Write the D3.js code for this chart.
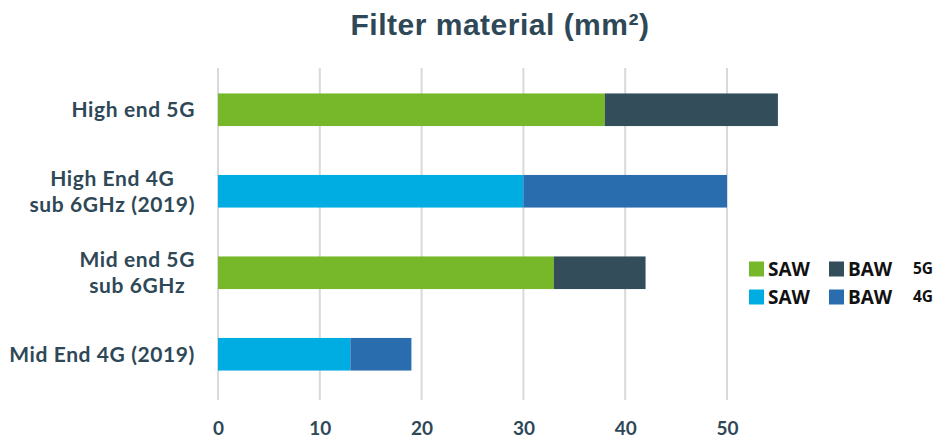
<!DOCTYPE html>
<html><head><meta charset="utf-8">
<script src="https://cdn.jsdelivr.net/npm/d3@7"></script>
<style>body{margin:0;background:#fff}svg{display:block}</style>
</head><body>
<script>
const categories = [["High end 5G"], ["High End 4G", "sub 6GHz (2019)"], ["Mid end 5G", "sub 6GHz"], ["Mid End 4G (2019)"]];
const generation = ["5G", "4G", "5G", "4G"];
const sawValues = [38, 30, 33, 13];
const bawValues = [17, 20, 9, 6];
const xTicks = [0, 10, 20, 30, 40, 50];
const title = "Filter material (mm²)";
const legendRows = [["SAW", "BAW", "5G"], ["SAW", "BAW", "4G"]];

const colors = {"5G": {saw: "#76b82a", baw: "#344d5a"}, "4G": {saw: "#00ade3", baw: "#2a6dae"}};
const textColor = "#2e4857";
const W = 940, H = 437;
const svg = d3.select("body").append("svg").attr("width", W).attr("height", H);

const x = d3.scaleLinear().domain([0, 50]).range([218, 727]);
const keys = categories.map((c, i) => i);
const y = d3.scaleBand().domain(keys).range([69, 395]).paddingInner(0.6).paddingOuter(0.3);

// gridlines
svg.append("g").selectAll("line").data(xTicks).join("line")
  .attr("x1", d => x(d)).attr("x2", d => x(d)).attr("y1", 68).attr("y2", 400)
  .attr("stroke", "#d9d9d9").attr("stroke-width", 2);

// bars
const g = svg.append("g");
keys.forEach(i => {
  const c = colors[generation[i]];
  g.append("rect").attr("x", x(0)).attr("y", y(i)).attr("width", x(sawValues[i]) - x(0))
    .attr("height", y.bandwidth()).attr("fill", c.saw);
  g.append("rect").attr("x", x(sawValues[i])).attr("y", y(i))
    .attr("width", x(sawValues[i] + bawValues[i]) - x(sawValues[i]))
    .attr("height", y.bandwidth()).attr("fill", c.baw);
});

// x axis labels
const xAxis = d3.axisBottom(x).tickValues(xTicks).tickSize(0).tickPadding(0);
const ax = svg.append("g").attr("transform", "translate(0,421)").call(xAxis);
ax.select(".domain").remove();
ax.selectAll("text").attr("font-family", "Lato, sans-serif").attr("font-weight", "bold")
  .attr("font-size", 19).attr("fill", textColor).attr("dy", "0.71em");

// category labels
const lab = svg.append("g");
keys.forEach(i => {
  const lines = categories[i];
  const t = lab.append("text").attr("font-family", "Lato, sans-serif").attr("font-weight", "bold")
    .attr("font-size", 21).attr("letter-spacing", "0.6px").attr("fill", textColor).attr("text-anchor", "middle");
  const lh = 26;
  const cy = y(i) + y.bandwidth() / 2;
  lines.forEach((l, k) => {
    t.append("tspan").attr("y", cy + (k - (lines.length - 1) / 2) * lh).attr("dy", "0.35em").text(l);
  });
  let maxW = 0;
  t.selectAll("tspan").each(function(){ maxW = Math.max(maxW, this.getComputedTextLength()); });
  t.selectAll("tspan").attr("x", 195 - maxW / 2);
});

// title
svg.append("text").attr("x", 500).attr("y", 35).attr("text-anchor", "middle")
  .attr("font-family", "Liberation Sans, Arial, sans-serif").attr("font-weight", "bold")
  .attr("font-size", 30).attr("letter-spacing", "0.5px").attr("fill", textColor).text(title);

// legend
const leg = svg.append("g");
legendRows.forEach((row, r) => {
  const ly = 269 + r * 28;
  const gen = row[2];
  leg.append("rect").attr("x", 749).attr("y", ly - 7.5).attr("width", 15).attr("height", 15).attr("fill", colors[gen].saw);
  leg.append("text").attr("x", 768).attr("y", ly).attr("dy", "0.36em").text(row[0]);
  leg.append("rect").attr("x", 829).attr("y", ly - 7.5).attr("width", 15).attr("height", 15).attr("fill", colors[gen].baw);
  leg.append("text").attr("x", 848).attr("y", ly).attr("dy", "0.36em").text(row[1]);
  leg.append("text").attr("x", 913).attr("y", ly - 1).attr("dy", "0.36em").attr("font-size", 15.5).attr("class", "gen").text(row[2]);
});
leg.selectAll("text").attr("font-family", "'Open Sans', sans-serif").attr("font-weight", "bold").attr("fill", "#111");
leg.selectAll("text:not(.gen)").attr("font-size", 19);
</script>
</body></html>
